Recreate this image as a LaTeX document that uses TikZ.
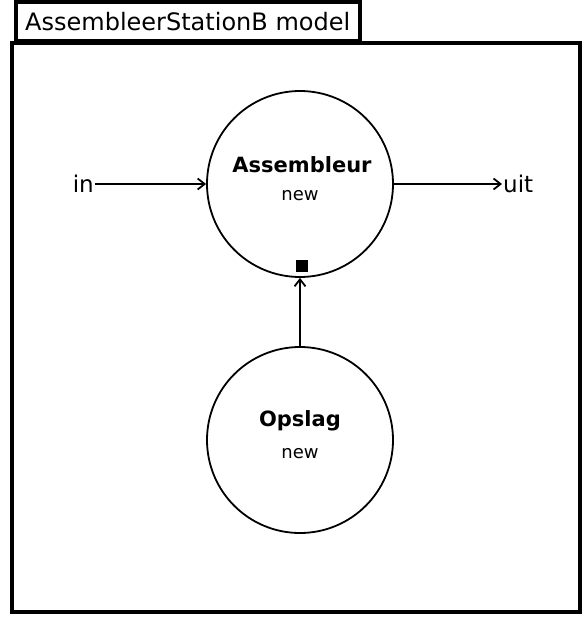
\documentclass[tikz,border=0pt]{standalone}
\usepackage{fontspec}
\setmainfont{DejaVu Sans}
\usetikzlibrary{arrows.meta}
\begin{document}
\begin{tikzpicture}[x=1pt,y=-1pt,
  frame/.style={draw=black,line width=3.5pt},
  block/.style={circle,draw=black,line width=1.8pt,minimum size=186pt,inner sep=0pt},
  conn/.style={draw=black,line width=1.8pt,-{Straight Barb[length=7pt,width=11pt,line width=1.8pt]}},
  lbl/.style={font=\fontsize{23}{26}\selectfont,inner sep=1pt}]
\useasboundingbox (0,0) rectangle (588,618);
% model frame and its name tab
\draw[frame] (12,43) rectangle (580,612);
\node[frame,draw,rectangle,anchor=south west,minimum height=39pt,minimum width=344pt,inner xsep=4pt,
      font=\fontsize{24}{26}\selectfont] (tab) at (14,43) {AssembleerStationB model};
% processes
\node[block] (asm) at (300,184) {};
\node[font=\bfseries\fontsize{21}{24}\selectfont] (asmname) at (302,165) {Assembleur};
\node[font=\fontsize{18}{20}\selectfont] (asmnew) at (300,196) {new};
\node[block] (ops) at (300,440) {};
\node[font=\bfseries\fontsize{21}{24}\selectfont] (opsname) at (300,421) {Opslag};
\node[font=\fontsize{18}{20}\selectfont] (opsnew) at (300,454) {new};
% port marker
\node[fill=black,minimum size=12pt,inner sep=0pt] (port) at (302,266) {};
% external ports
\node[lbl,anchor=east] (in) at (95,184) {in};
\node[lbl,anchor=west] (uit) at (502,184) {uit};
% connectors
\draw[conn] (in.east) -- (asm.west);
\draw[conn] (asm.east) -- (uit.west);
\draw[conn] (ops.north) -- (asm.south);
\end{tikzpicture}
\end{document}
